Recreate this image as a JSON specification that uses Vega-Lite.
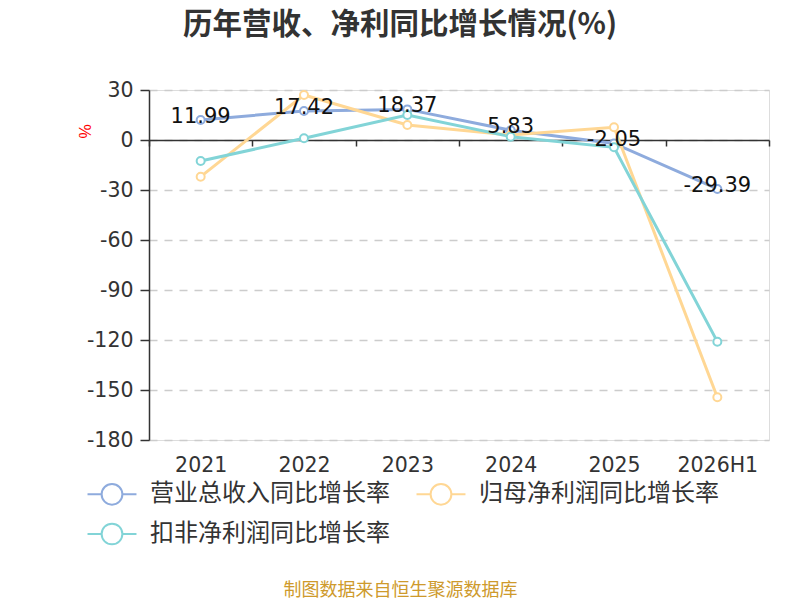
{
  "$schema": "https://vega.github.io/schema/vega-lite/v6.json",
  "width": 620,
  "height": 350,
  "autosize": "none",
  "padding": {"left": 149, "top": 90, "right": 31, "bottom": 160},
  "background": "white",
  "title": {
    "text": "历年营收、净利同比增长情况(%)",
    "fontSize": 29.5,
    "fontWeight": "bold",
    "color": "#333333",
    "font": "Noto Sans CJK SC",
    "anchor": "middle",
    "frame": "group",
    "dx": -59,
    "offset": 40
  },
  "data": {
    "values": [
      {"year": "2021", "series": "营业总收入同比增长率", "value": 11.99},
      {"year": "2022", "series": "营业总收入同比增长率", "value": 17.42},
      {"year": "2023", "series": "营业总收入同比增长率", "value": 18.37},
      {"year": "2024", "series": "营业总收入同比增长率", "value": 5.83},
      {"year": "2025", "series": "营业总收入同比增长率", "value": -2.05},
      {"year": "2026H1", "series": "营业总收入同比增长率", "value": -29.39},
      {"year": "2021", "series": "归母净利润同比增长率", "value": -22.0},
      {"year": "2022", "series": "归母净利润同比增长率", "value": 27.0},
      {"year": "2023", "series": "归母净利润同比增长率", "value": 9.0},
      {"year": "2024", "series": "归母净利润同比增长率", "value": 3.0},
      {"year": "2025", "series": "归母净利润同比增长率", "value": 7.6},
      {"year": "2026H1", "series": "归母净利润同比增长率", "value": -154.4},
      {"year": "2021", "series": "扣非净利润同比增长率", "value": -12.6},
      {"year": "2022", "series": "扣非净利润同比增长率", "value": 1.0},
      {"year": "2023", "series": "扣非净利润同比增长率", "value": 15.0},
      {"year": "2024", "series": "扣非净利润同比增长率", "value": 2.0},
      {"year": "2025", "series": "扣非净利润同比增长率", "value": -4.4},
      {"year": "2026H1", "series": "扣非净利润同比增长率", "value": -121.0}
    ]
  },
  "encoding": {
    "x": {
      "field": "year",
      "type": "ordinal",
      "bandPosition": 0.5,
      "scale": {"type": "band", "paddingInner": 0, "paddingOuter": 0},
      "axis": {
        "offset": -300,
        "tickBand": "extent",
        "tickSize": 6,
        "tickColor": "#333333",
        "tickWidth": 1.5,
        "domainColor": "#333333",
        "domainWidth": 1.5,
        "labelAngle": 0,
        "labelPadding": 309,
        "labelFontSize": 20.5,
        "labelColor": "#333333",
        "labelFont": "DejaVu Sans",
        "labelBaseline": "top",
        "grid": false,
        "title": "制图数据来自恒生聚源数据库",
        "titleFont": "Noto Sans CJK SC",
        "titleFontSize": 18,
        "titleFontWeight": "normal",
        "titleColor": "#CE9A2C",
        "titleX": 251,
        "titleY": 450,
        "titleAlign": "center",
        "titleBaseline": "middle"
      }
    },
    "y": {
      "field": "value",
      "type": "quantitative",
      "scale": {"domain": [-180, 30], "nice": false, "zero": false},
      "axis": {
        "values": [30, 0, -30, -60, -90, -120, -150, -180],
        "labelExpr": "replace(datum.label, '\u2212', '-')",
        "tickSize": 9,
        "tickColor": "#333333",
        "tickWidth": 1.5,
        "domainColor": "#333333",
        "domainWidth": 1.5,
        "labelPadding": 7,
        "labelFontSize": 20.5,
        "labelColor": "#333333",
        "labelFont": "DejaVu Sans",
        "grid": true,
        "gridColor": "#cccccc",
        "gridDash": [8, 7],
        "gridWidth": 1.5,
        "title": "%",
        "titleColor": "red",
        "titleFontSize": 16,
        "titleFontWeight": "normal",
        "titleX": -64,
        "titleY": 41,
        "titleAngle": -90,
        "titleAlign": "center",
        "titleBaseline": "middle"
      }
    }
  },
  "layer": [
    {
      "mark": {"type": "line", "strokeWidth": 3},
      "encoding": {
        "color": {
          "field": "series",
          "type": "nominal",
          "sort": ["营业总收入同比增长率", "归母净利润同比增长率", "扣非净利润同比增长率"],
          "scale": {
            "domain": ["营业总收入同比增长率", "归母净利润同比增长率", "扣非净利润同比增长率"],
            "range": ["#8EABDD", "#FFD794", "#82D4D7"]
          },
          "legend": {
            "orient": "none",
            "legendX": -59,
            "legendY": 382,
            "direction": "horizontal",
            "columns": 2,
            "columnPadding": 22,
            "rowPadding": 3,
            "padding": 0,
            "title": null,
            "symbolType": "M-1.18,0H-0.5M0.5,0H1.18M0.5,0A0.5,0.5 0 1 1 -0.5,0A0.5,0.5 0 1 1 0.5,0",
            "symbolSize": 1722,
            "symbolStrokeWidth": 2,
            "labelOffset": 16,
            "labelFontSize": 24,
            "labelFont": "Noto Sans CJK SC",
            "labelColor": "#333333",
            "labelLimit": 400,
            "encode": {
              "symbols": {"update": {"fill": {"value": "white"}, "strokeWidth": {"value": 2}}}
            }
          }
        }
      }
    },
    {
      "mark": {"type": "point", "shape": "circle", "filled": false, "fill": "white", "size": 64, "strokeWidth": 2, "opacity": 1},
      "encoding": {
        "color": {"field": "series", "type": "nominal", "legend": null}
      }
    },
    {
      "transform": [
        {"filter": "datum.series === '营业总收入同比增长率'"},
        {"calculate": "replace(format(datum.value, '.2f'), '\u2212', '-')", "as": "label"}
      ],
      "mark": {"type": "text", "fontSize": 21, "font": "DejaVu Sans", "color": "#111111", "baseline": "middle", "align": "center", "dy": -3},
      "encoding": {
        "text": {"field": "label", "type": "nominal"}
      }
    }
  ]
}
